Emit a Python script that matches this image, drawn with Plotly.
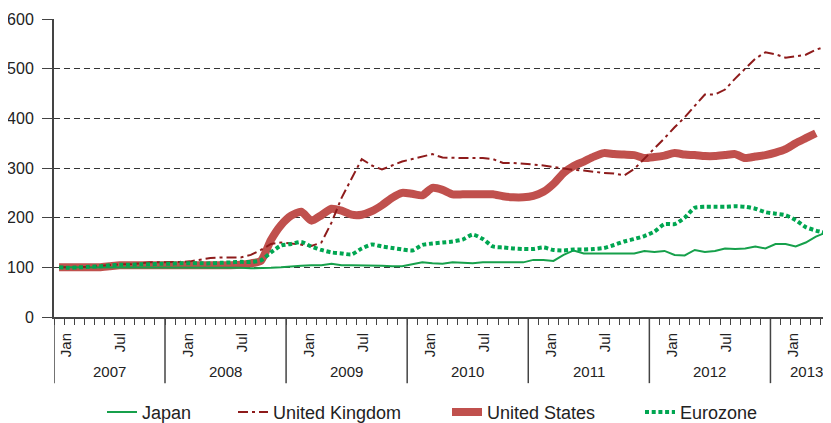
import pandas as pd
import plotly.graph_objects as go

# monthly index, Feb 2007 .. Jun 2013
months = pd.date_range("2007-02-01", periods=77, freq="MS")
years = [2007, 2008, 2009, 2010, 2011, 2012, 2013]
month_labels = ["Jan", "Jul"]

japan = [100, 100, 100, 100, 100, 100, 100, 100, 100, 100, 100, 100,
         100, 100, 100, 100, 100, 100, 99, 98, 98, 99, 100, 102,
         103, 104, 104, 107, 104, 104, 104, 104, 103, 102, 102, 106,
         110, 108, 107, 110, 109, 108, 110, 110, 110, 110, 110, 115,
         115, 113, 125, 134, 128, 128, 128, 128, 128, 128, 133, 131,
         133, 125, 124, 135, 131, 133, 138, 137, 138, 142, 138, 147,
         147, 142, 150, 162, 170]
uk = [100, 100, 100, 101, 103, 105, 106, 106, 108, 110, 110, 110,
      111, 112, 115, 119, 120, 120, 120, 125, 135, 147, 150, 148,
      146, 143, 150, 190, 240, 280, 318, 305, 297, 305, 313, 318,
      323, 328, 321, 320, 320, 320, 320, 318, 310, 310, 309, 307,
      305, 302, 299, 296, 295, 292, 290, 289, 285, 298, 318, 340,
      360, 382, 402, 425, 448, 448, 458, 480, 500, 520, 533, 529,
      522, 525, 528, 538, 545]
us = [100, 100, 100, 100, 100, 102, 104, 104, 104, 104, 104, 104,
      104, 104, 104, 104, 104, 104, 105, 108, 113, 155, 185, 204,
      212, 194, 205, 218, 214, 206, 206, 213, 225, 240, 250, 248,
      245, 260, 256, 247, 247, 247, 247, 247, 243, 241, 241, 244,
      252, 268, 290, 304, 313, 323, 330, 328, 327, 326, 320, 322,
      325, 330, 327, 326, 324, 324, 326, 328, 320, 323, 326, 331,
      338, 350, 360, 370]
eurozone = [100, 99, 100, 101, 102, 104, 105, 105, 106, 106, 107, 107,
            108, 108, 108, 108, 109, 110, 111, 111, 114, 130, 144, 147,
            151, 142, 135, 130, 128, 126, 138, 146, 142, 139, 136, 134,
            145, 148, 150, 152, 156, 166, 157, 142, 140, 138, 137, 137,
            140, 135, 134, 136, 136, 137, 139, 145, 152, 157, 163, 172,
            187, 187, 200, 220, 222, 222, 222, 223, 222, 218, 211, 208,
            205, 195, 181, 174, 169]

# position in months from Jan 2007, point at middle of the month
t = [(d.year - 2007) * 12 + d.month - 0.5 for d in months]
x_lo, x_hi = 1, 78
year_start = [(y - 2007) * 12 for y in years]

FONT = "Liberation Sans, Arial, sans-serif"
AX = "#444444"
W, H = 823, 415  # page body keeps an 8px margin

fig = go.Figure()
fig.add_trace(go.Scatter(x=t[:len(us)], y=us, mode="lines", name="United States",
                         line=dict(color="#c0504d", width=8, shape="spline", smoothing=0.6),
                         legend="legend3"))
fig.add_trace(go.Scatter(x=t, y=japan, mode="lines", name="Japan",
                         line=dict(color="#16a04b", width=2), legend="legend"))
fig.add_trace(go.Scatter(x=t, y=uk, mode="lines", name="United Kingdom",
                         line=dict(color="#8e1b1b", width=2, dash="10px,4px,3px,4px"),
                         legend="legend2"))
fig.add_trace(go.Scatter(x=t, y=eurozone, mode="lines", name="Eurozone",
                         line=dict(color="#00a651", width=4, dash="4px,2.7px",
                                   shape="spline", smoothing=0.6),
                         legend="legend4"))

# tick labels Jan / Jul
tickvals, ticktext = [], []
for ys in year_start:
    for lab, off in zip(month_labels, [2.25, 7.6]):
        if x_lo < ys + off < x_hi:
            tickvals.append(ys + off)
            ticktext.append(lab)

fig.update_xaxes(range=[x_lo, x_hi], showgrid=False, zeroline=False, automargin=False,
                 showline=True, linecolor=AX, linewidth=2,
                 tickmode="array", tickvals=tickvals, ticktext=ticktext,
                 tickangle=-90, ticks="outside", ticklen=8, tickcolor="rgba(0,0,0,0)",
                 tickfont=dict(size=15, color="#222", family=FONT),
                 minor=dict(ticks="outside", ticklen=6, tickcolor=AX, tickwidth=1,
                            tickmode="array", tickvals=list(range(x_lo, x_hi + 1))))
fig.update_yaxes(range=[0, 600], dtick=100, showgrid=True, gridcolor="#333",
                 gridwidth=1, griddash="6px,4px", zeroline=False, automargin=False,
                 showline=True, linecolor=AX, linewidth=2,
                 ticks="outside", ticklen=10, tickcolor=AX, ticklabelstandoff=5,
                 tickfont=dict(size=16, color="#222", family=FONT))

# year separators and year labels
for ys in [x_lo] + year_start[1:]:
    fig.add_shape(type="line", xref="x", yref="paper", x0=ys, x1=ys, y0=0, y1=-0.222,
                  line=dict(color=AX, width=1.5))
for y, ys in zip(years, year_start):
    mid = (max(ys, x_lo) + min(ys + 12, x_hi + 1.2)) / 2
    fig.add_annotation(x=mid, y=-0.184, xref="x", yref="paper", text=str(y),
                       xanchor="center", yanchor="middle", showarrow=False,
                       font=dict(size=15, color="#222", family=FONT))

leg = dict(orientation="h", xref="container", yref="container", y=0.026,
           yanchor="middle", xanchor="left",
           font=dict(size=18, color="#222", family=FONT), bgcolor="rgba(0,0,0,0)")
fig.update_layout(
    width=W, height=H,
    margin=dict(l=46, r=0, t=11, b=106),
    plot_bgcolor="white", paper_bgcolor="white",
    font=dict(family=FONT),
    showlegend=True,
    legend=dict(leg, x=(107 - 13) / W),
    legend2=dict(leg, x=(238 - 13) / W),
    legend3=dict(leg, x=(452 - 13) / W),
    legend4=dict(leg, x=(645 - 13) / W),
)

fig.write_html("out.html")
